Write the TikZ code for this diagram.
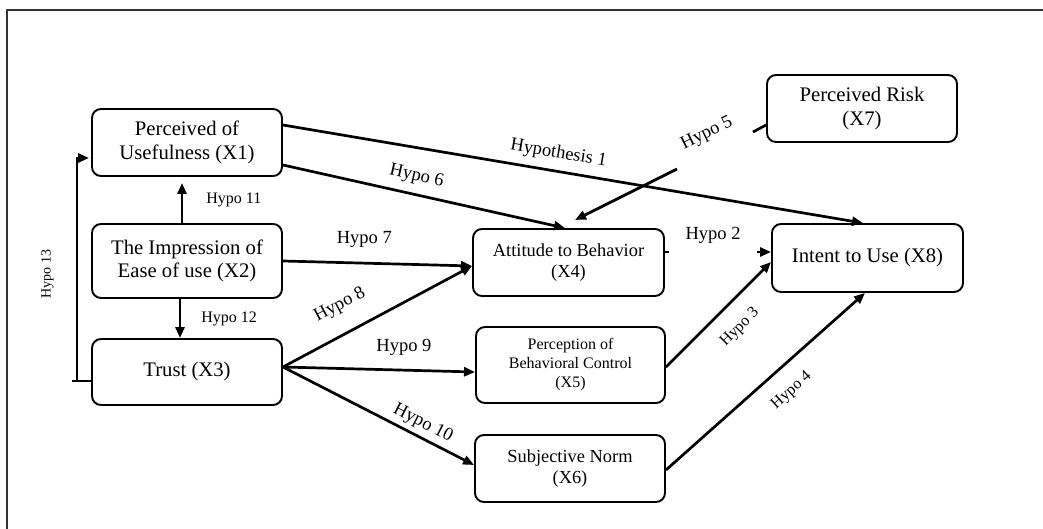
\documentclass[tikz,border=0pt]{standalone}
\usepackage{fontspec}
\setmainfont{Liberation Serif}
\usetikzlibrary{arrows.meta}
\begin{document}
\begin{tikzpicture}[x=1pt,y=-1pt,
  box/.style={draw, line width=1.9pt, rounded corners=9pt, align=center, inner sep=0pt,
    font=\fontsize{20.7}{23.5}\selectfont},
  mbox/.style={box, font=\fontsize{18.4}{20.5}\selectfont},
  sbox/.style={box, font=\fontsize{16}{19}\selectfont},
  lbl/.style={inner sep=0pt, font=\fontsize{18.5}{20}\selectfont},
  slbl/.style={inner sep=0pt, font=\fontsize{16}{18}\selectfont},
  conn/.style={line width=2.7pt, -{Triangle[length=11pt,width=9pt]}},
  seg/.style={line width=2.7pt}]
\useasboundingbox (0,0) rectangle (1043,529);
% frame
\draw[line width=1.2pt, black!80] (7,529) -- (7,10) -- (1043,10);
% nodes
\node[box, minimum width=190pt, minimum height=67pt] (X1) at (187,142.5) {Perceived of\\Usefulness (X1)};
\node[box, minimum width=190pt, minimum height=74pt] (X2) at (187,261) {The Impression of\\Ease of use (X2)};
\node[box, minimum width=190pt, minimum height=66pt] (X3) at (187,372) {Trust (X3)};
\node[mbox, minimum width=191pt, minimum height=67pt] (X4) at (568.5,262.5) {Attitude to Behavior\\(X4)};
\node[sbox, minimum width=189pt, minimum height=76pt] (X5) at (570.5,365) {Perception of\\Behavioral Control\\(X5)};
\node[mbox, minimum width=190pt, minimum height=67pt] (X6) at (570,468.5) {Subjective Norm\\(X6)};
\node[box, minimum width=190pt, minimum height=67pt] (X7) at (862,108.5) {Perceived Risk\\(X7)};
\node[box, minimum width=191pt, minimum height=68pt] (X8) at (867.5,258) {Intent to Use (X8)};
% helper coordinates
\coordinate (h5a) at (753,132);
\coordinate (h5b) at (677,169);
\coordinate (h5c) at (575,220);
\coordinate (h2a) at (669,252);
\coordinate (h2b) at (757,252);
% connectors
\draw[conn] (X1.east |- 0,125) -- node[lbl, pos=0.47, sloped, above=8pt] {Hypothesis 1} (863,0 |- X8.north);
\draw[conn] (X1.east |- 0,165) -- node[lbl, pos=0.46, sloped, above=8pt] {Hypo 6} (565,0 |- X4.north);
\draw[seg] (X7.west |- 0,125) -- (h5a);
\path (h5b) -- node[lbl, sloped, above=10pt] {Hypo 5} (h5a);
\draw[conn] (h5b) -- (h5c);
\draw[conn] (X2.east |- 0,261) -- node[lbl, pos=0.43, above=14pt] {Hypo 7} (X4.west |- 0,266);
\draw[conn] (X3.east |- 0,367) -- node[lbl, pos=0.37, sloped, above=18pt] {Hypo 8} (X4.west |- 0,266);
\draw[conn] (X3.east |- 0,367) -- node[lbl, pos=0.63, above=13pt] {Hypo 9} (X5.west |- 0,372);
\draw[conn] (X3.east |- 0,367) -- node[lbl, pos=0.70, sloped, above=4pt] {Hypo 10} (X6.west |- 0,465);
\draw[seg] (X4.east |- 0,252) -- (h2a);
\path (h2a) -- node[lbl, above=8pt] {Hypo 2} (h2b);
\draw[conn] (h2b) -- (X8.west |- 0,252);
\draw[conn] (X5.east |- 0,367) -- node[slbl, pos=0.54, sloped, below=16pt] {Hypo 3} (X8.west |- 0,262);
\draw[conn] (X6.east |- 0,470) -- node[slbl, pos=0.55, sloped, below=16pt] {Hypo 4} (865,0 |- X8.south);
\draw[conn, shorten >=6pt] (182,0 |- X2.north) -- node[slbl, right=23pt] {Hypo 11} (182,0 |- X1.south);
\draw[conn] (180,0 |- X2.south) -- node[slbl, right=20pt] {Hypo 12} (180,0 |- X3.north);
\draw[seg] (X3.west |- 0,381) -- (72,381);
\draw[conn, shorten >=2pt] (77,381) -- node[inner sep=0pt, font=\fontsize{14}{16}\selectfont, pos=0.48, sloped, above=22pt] {Hypo 13} (77,158) -- (X1.west |- 0,158);
\end{tikzpicture}
\end{document}
